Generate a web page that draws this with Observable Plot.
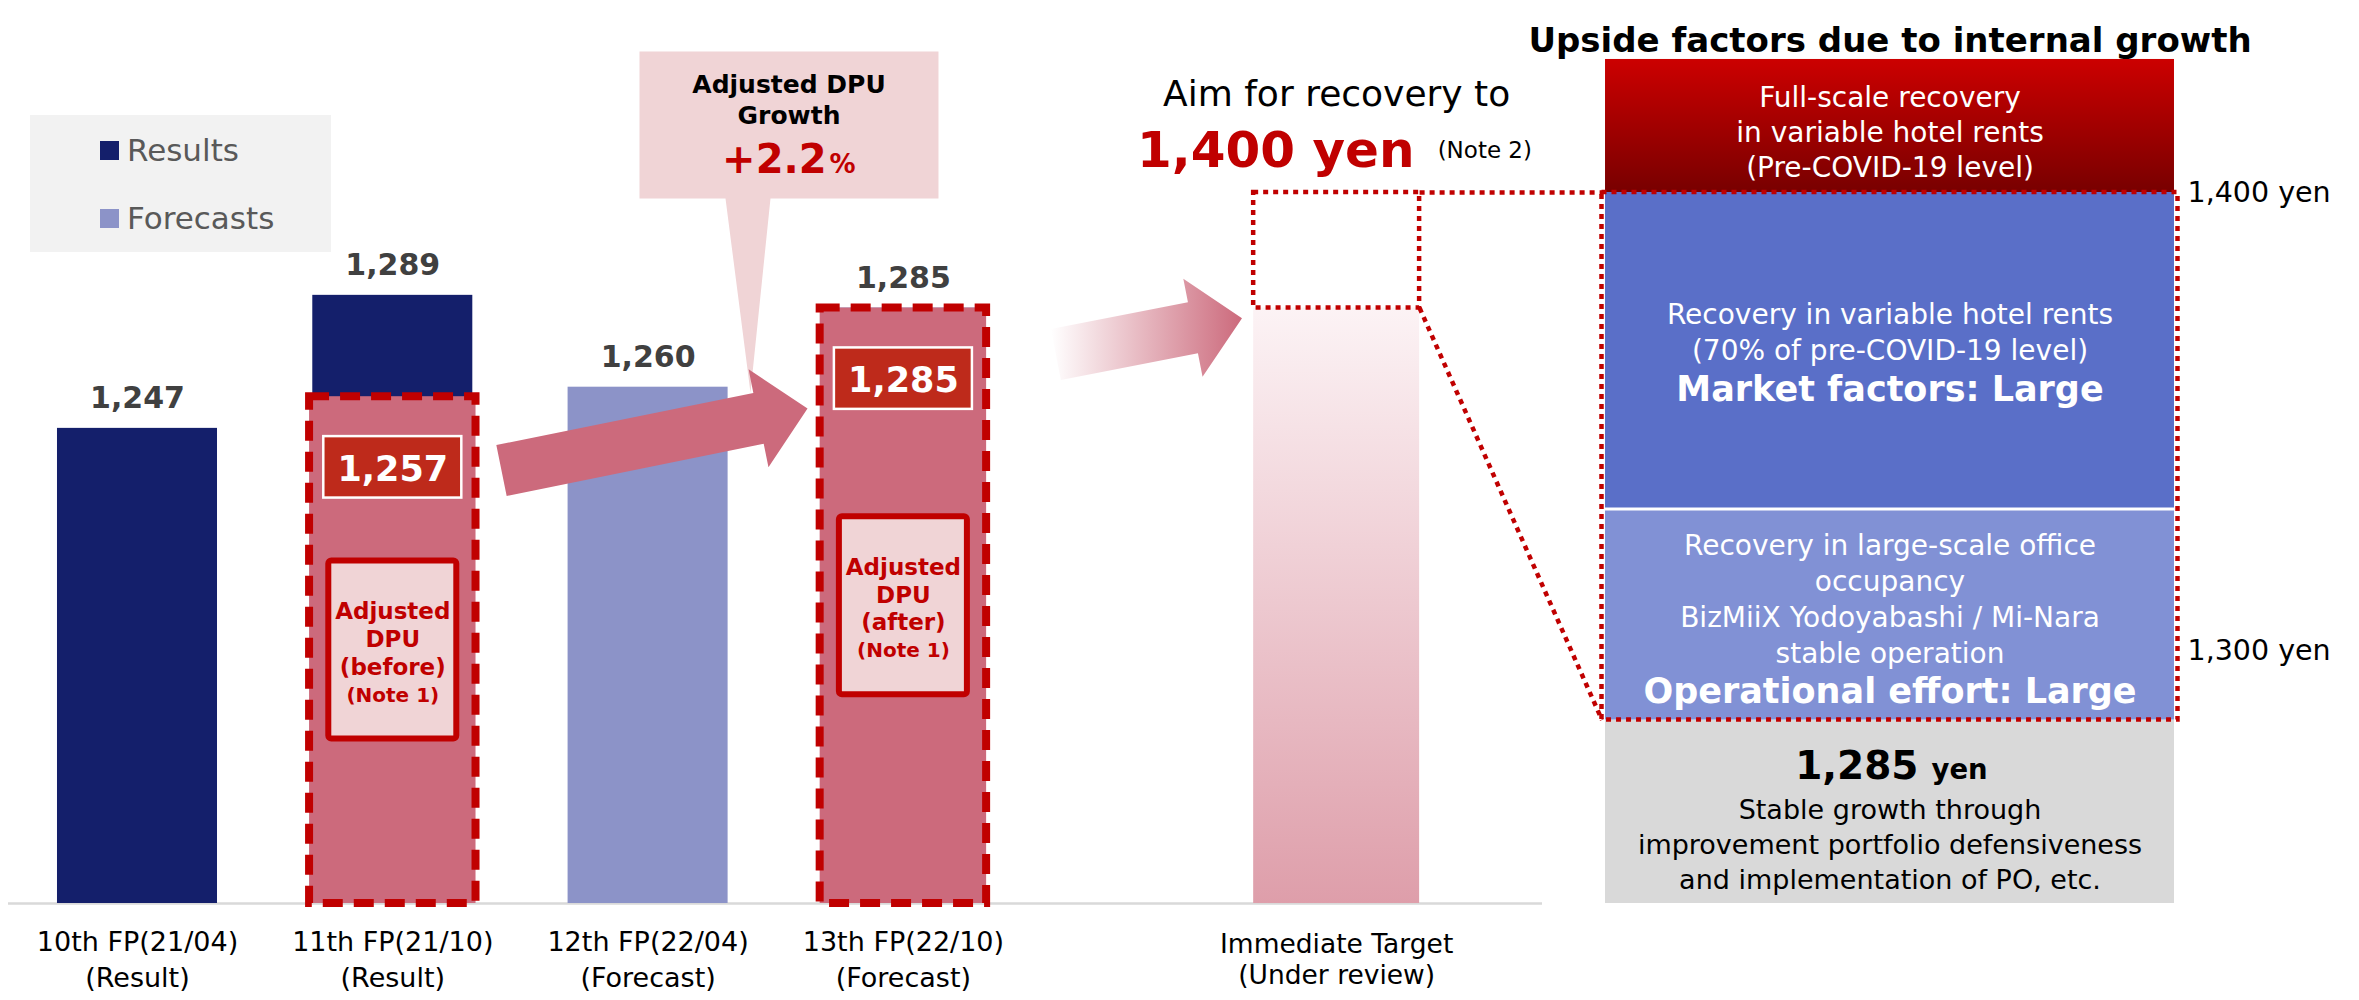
<!DOCTYPE html>
<html>
<head>
<meta charset="utf-8">
<script src="https://cdn.jsdelivr.net/npm/d3@7"></script>
<script src="https://cdn.jsdelivr.net/npm/@observablehq/plot@0.6"></script>
<style>
html, body { margin: 0; padding: 0; background: #fff; }
#stage { position: relative; width: 2359px; height: 1000px; overflow: hidden; font-family: "DejaVu Sans", sans-serif; }
#stage > svg.chart { position: absolute; left: 0; top: 0; }
#legendBox { position: absolute; left: 30px; top: 115px; width: 301px; height: 137px; background: #f2f2f2; box-sizing: border-box; padding: 1px 0 0 70px; }
#legendBox .lg-swatches { font-family: "DejaVu Sans", sans-serif; font-size: 31px; color: #595959; margin: 0; }
#legendBox .lg-swatch { height: 68px; padding: 0; display: flex; align-items: center; }
#legendBox .lg-swatch > svg { margin-right: 8px; }
</style>
</head>
<body>
<div id="stage">
<svg width="0" height="0" style="position:absolute">
  <defs>
    <linearGradient id="tgtGrad" x1="0" y1="0" x2="0" y2="1">
      <stop offset="0" stop-color="#fcf3f5"/>
      <stop offset="1" stop-color="#de9eaa"/>
    </linearGradient>
    <linearGradient id="fullGrad" x1="0" y1="0" x2="0" y2="1">
      <stop offset="0" stop-color="#cc0000"/>
      <stop offset="1" stop-color="#780000"/>
    </linearGradient>
    <linearGradient id="fadeArrow" x1="0" y1="0" x2="1" y2="0">
      <stop offset="0" stop-color="#cc6a7c" stop-opacity="0"/>
      <stop offset="1" stop-color="#cc6a7c" stop-opacity="1"/>
    </linearGradient>
  </defs>
</svg>
</div>
<script>
// ================= DATA =================
const categories = ["10th FP(21/04)", "11th FP(21/10)", "12th FP(22/04)", "13th FP(22/10)"];
const periodTags = ["(Result)", "(Result)", "(Forecast)", "(Forecast)"];
const seriesNames = ["Results", "Forecasts"];
const periodSeries = ["Results", "Results", "Forecasts", "Forecasts"];
const dpuValues = [1247, 1289, 1260, 1285];
const adjustedDpu = [null, 1257, null, 1285];
const adjustedTags = [null, "(before)", null, "(after)"];
const growthPct = 2.2;
const targetLabel = ["Immediate Target", "(Under review)"];
const targetDpu = 1400;
const upsideTitle = "Upside factors due to internal growth";
const upsideKeys = ["base", "operational", "market", "fullScale"];
const upsideFrom = [null, 1285, 1331, 1400];   // null = chart base
const upsideTo = [1285, 1331, 1400, 1429];
const upsideTicks = [1300, 1400];
const upsideBody = {
  base: "Stable growth through\nimprovement portfolio defensiveness\nand implementation of PO, etc.",
  operational: "Recovery in large-scale office\noccupancy\nBizMiiX Yodoyabashi / Mi-Nara\nstable operation",
  market: "Recovery in variable hotel rents\n(70% of pre-COVID-19 level)",
  fullScale: "Full-scale recovery\nin variable hotel rents\n(Pre-COVID-19 level)"
};
const upsideHead = { operational: "Operational effort: Large", market: "Market factors: Large" };

// ================= STYLE & LAYOUT =================
const W = 2359, H = 1000;
const FONT = "DejaVu Sans";
const C = {
  navy: "#141f6b", lavender: "#8c93c8", rose: "#cc6a7c", red: "#c00000",
  tag: "#be2a1b", blush: "#f0d4d6", valueGray: "#404040", axisGray: "#d9d9d9",
  market: "#5a6fc8", operational: "#8191d5", base: "#d9d9d9", full: "url(#fullGrad)"
};
const L = {
  xDomain: [-0.5366, 8.7035],            // slot units across the full width
  yLeft: [1097, 1300], yLeftPx: [903, 260],
  yRight: [1245, 1400], yRightPx: [903, 192],
  barHalf: 0.3134, adjHalf: 0.326, tagHalf: 0.2703, tagTop: 12.6, tagBottom: 32,
  noteHalf: 0.2507, noteHalfV: 28.1,
  targetSlot: 4.697, targetHalf: 0.325,
  panelSlot: 6.8645, panelHalf: 1.1143, frameHalf: 1.1281,
  arrow: { shaftHalf: 26, headLen: 50, headHalf: 50 },
  arrows: [
    { from: [1.4258, 1233.7], to: [2.6245, 1253.3], fill: "#cc6a7c" },
    { from: [3.5973, 1270.3], to: [4.3263, 1281.8], fill: "url(#fadeArrow)" }
  ],
  callout: { x: [1.9663, 3.1375], y: [1319.6, 1366.0], pointer: [2.3032, 2.4794], tip: [2.4011, 1258.3] }
};

const fmt = d3.format(",");
const xs = d3.scaleLinear(L.xDomain, [0, W]);
const yl = d3.scaleLinear(L.yLeft, L.yLeftPx);
const yr = d3.scaleLinear(L.yRight, L.yRightPx);

function arrowPolygon(a) {
  const x0 = xs(a.from[0]), y0 = yl(a.from[1]);
  const x1 = xs(a.to[0]), y1 = yl(a.to[1]);
  const len = Math.hypot(x1 - x0, y1 - y0);
  const ux = (x1 - x0) / len, uy = (y1 - y0) / len, nx = -uy, ny = ux;
  const bx = x1 - ux * L.arrow.headLen, by = y1 - uy * L.arrow.headLen;
  const s = L.arrow.shaftHalf, h = L.arrow.headHalf;
  const pts = [[x0 + nx*s, y0 + ny*s], [bx + nx*s, by + ny*s], [bx + nx*h, by + ny*h], [x1, y1],
               [bx - nx*h, by - ny*h], [bx - nx*s, by - ny*s], [x0 - nx*s, y0 - ny*s]];
  return pts.map(([px, py]) => ({ x: xs.invert(px), y: yl.invert(py) }));
}

const rows = categories.map((c, i) => ({
  i, category: c, tag: periodTags[i], value: dpuValues[i], series: periodSeries[i],
  adjusted: adjustedDpu[i], adjTag: adjustedTags[i]
}));
const adj = rows.filter(d => d.adjusted != null);
const base = L.yLeft[0];
const baseDpu = upsideTo[0];
const co = L.callout;
const calloutPts = [
  [co.x[0], co.y[1]], [co.x[1], co.y[1]], [co.x[1], co.y[0]], [co.pointer[1], co.y[0]],
  [co.tip[0], co.tip[1]], [co.pointer[0], co.y[0]], [co.x[0], co.y[0]]
].map(([x, y]) => ({ x, y }));
const coMid = (co.x[0] + co.x[1]) / 2;
const noteMid = d => (base + d.adjusted) / 2;

// ================= LEFT CHART =================
const plotA = Plot.plot({
  width: W, height: H,
  marginTop: 0, marginLeft: 8, marginRight: W - 1542, marginBottom: H - 903,
  x: { type: "linear", domain: L.xDomain, range: [0, W] },
  y: { type: "linear", domain: L.yLeft, range: L.yLeftPx, axis: null },
  color: { domain: seriesNames, range: [C.navy, C.lavender] },
  style: { fontFamily: FONT, background: "transparent", overflow: "visible" },
  marks: [
    Plot.ruleY([base], { stroke: C.axisGray, strokeWidth: 2.5 }),
    Plot.rect(rows, { x1: d => d.i - L.barHalf, x2: d => d.i + L.barHalf, y1: () => base, y2: "value", fill: "series" }),
    Plot.rect(adj, { x1: d => d.i - L.adjHalf, x2: d => d.i + L.adjHalf, y1: () => base, y2: "adjusted",
      fill: C.rose, stroke: C.red, strokeWidth: 8, strokeDasharray: "20,11" }),
    Plot.rect(adj, { x1: d => d.i - L.tagHalf, x2: d => d.i + L.tagHalf,
      y1: d => d.adjusted - L.tagBottom, y2: d => d.adjusted - L.tagTop,
      fill: C.tag, stroke: "white", strokeWidth: 2.5 }),
    Plot.text(adj, { x: "i", y: d => d.adjusted - (L.tagTop + L.tagBottom) / 2, dy: 2, text: d => fmt(d.adjusted),
      fill: "white", fontSize: 35, fontWeight: "bold", fontFamily: FONT }),
    Plot.rect(adj, { x1: d => d.i - L.noteHalf, x2: d => d.i + L.noteHalf,
      y1: d => noteMid(d) - L.noteHalfV, y2: d => noteMid(d) + L.noteHalfV,
      fill: C.blush, stroke: C.red, strokeWidth: 6, rx: 3 }),
    Plot.text(adj, { x: "i", y: noteMid, dy: -12, text: d => "Adjusted\nDPU\n" + d.adjTag, lineHeight: 1.2,
      fill: C.red, fontSize: 23, fontWeight: "bold", fontFamily: FONT }),
    Plot.text(adj, { x: "i", y: noteMid, dy: 45, text: () => "(Note 1)",
      fill: C.red, fontSize: 20, fontWeight: "bold", fontFamily: FONT }),
    Plot.text(rows, { x: "i", y: "value", dy: -30, text: d => fmt(d.value),
      fill: C.valueGray, fontSize: 30, fontWeight: "bold", fontFamily: FONT }),
    // callout
    Plot.line(calloutPts, { x: "x", y: "y", fill: C.blush, stroke: null }),
    Plot.text([0], { x: () => coMid, y: () => co.y[1], dy: 47.5, text: () => "Adjusted DPU\nGrowth", lineHeight: 1.24,
      fill: "black", fontSize: 25, fontWeight: "bold", fontFamily: FONT }),
    Plot.text([growthPct], { x: () => coMid, y: () => co.y[1], dx: 37.5, dy: 109, text: d => "+" + d, textAnchor: "end",
      fill: C.red, fontSize: 40, fontWeight: "bold", fontFamily: FONT }),
    Plot.text([0], { x: () => coMid, y: () => co.y[1], dx: 40.5, dy: 113.7, text: () => "%", textAnchor: "start",
      fill: C.red, fontSize: 26, fontWeight: "bold", fontFamily: FONT }),
    // arrows
    ...L.arrows.map(a => Plot.line(arrowPolygon(a), { x: "x", y: "y", fill: a.fill, stroke: null })),
    // target bar
    Plot.rect([0], { x1: () => L.targetSlot - L.targetHalf, x2: () => L.targetSlot + L.targetHalf,
      y1: () => base, y2: () => baseDpu, fill: "url(#tgtGrad)" }),
    // category axis
    Plot.axisX(rows.map(d => d.i), { anchor: "bottom", tickSize: 0, tickPadding: 22,
      tickFormat: i => categories[i] + "\n" + periodTags[i], fontSize: 27, lineHeight: 1.34, fontFamily: FONT, fill: "black" }),
    Plot.axisX([L.targetSlot], { anchor: "bottom", tickSize: 0, tickPadding: 28,
      tickFormat: () => targetLabel.join("\n"), fontSize: 26.5, lineHeight: 1.15, fontFamily: FONT, fill: "black" })
  ]
});
plotA.classList.add("chart");

// ================= RIGHT PANEL =================
const segs = upsideKeys.map((key, i) => ({ key, from: upsideFrom[i] ?? L.yRight[0], to: upsideTo[i] }));
const seg = k => segs.find(s => s.key === k);
const segMid = k => (seg(k).from + seg(k).to) / 2;
const pL = L.panelSlot - L.panelHalf, pR = L.panelSlot + L.panelHalf;
const fL = L.panelSlot - L.frameHalf, fR = L.panelSlot + L.frameHalf;
const leftToRight = v => yr.invert(yl(v));
const dotted = { stroke: C.red, strokeWidth: 4.5, strokeDasharray: "5,5" };
const tL = L.targetSlot - L.targetHalf, tR = L.targetSlot + L.targetHalf;
const smallBottom = leftToRight(baseDpu);

const plotB = Plot.plot({
  width: W, height: H,
  marginTop: 0, marginLeft: 0, marginRight: W - 2178, marginBottom: H - 903,
  x: { type: "linear", domain: L.xDomain, range: [0, W], axis: null },
  y: { type: "linear", domain: L.yRight, range: L.yRightPx },
  style: { fontFamily: FONT, background: "transparent", overflow: "visible", pointerEvents: "none" },
  marks: [
    ...segs.map(s => Plot.rect([s], { x1: () => pL, x2: () => pR, y1: "from", y2: "to", fill: C[s.key === "fullScale" ? "full" : s.key] })),
    Plot.ruleY([seg("market").from], { x1: () => pL, x2: () => pR, stroke: "white", strokeWidth: 3 }),
    Plot.rect([0], { x1: () => fL, x2: () => fR, y1: () => seg("operational").from, y2: () => seg("market").to, fill: "none", ...dotted }),
    Plot.rect([0], { x1: () => tL, x2: () => tR, y1: () => smallBottom, y2: () => targetDpu, fill: "none", ...dotted }),
    Plot.link([
      { x1: tR, y1: targetDpu, x2: fL, y2: seg("market").to },
      { x1: tR, y1: smallBottom, x2: fL, y2: seg("operational").from }
    ], { x1: "x1", y1: "y1", x2: "x2", y2: "y2", ...dotted }),
    // panel texts
    Plot.text([upsideBody.fullScale], { x: () => L.panelSlot, y: () => segMid("fullScale"), dy: 4.5, lineHeight: 1.25,
      fill: "white", fontSize: 28, fontFamily: FONT }),
    Plot.text([upsideBody.market], { x: () => L.panelSlot, y: () => segMid("market"), dy: -20, lineHeight: 1.29,
      fill: "white", fontSize: 28, fontFamily: FONT }),
    Plot.text([upsideHead.market], { x: () => L.panelSlot, y: () => segMid("market"), dy: 39,
      fill: "white", fontSize: 35, fontWeight: "bold", fontFamily: FONT }),
    Plot.text([upsideBody.operational], { x: () => L.panelSlot, y: () => segMid("operational"), dy: -17, lineHeight: 1.29,
      fill: "white", fontSize: 28, fontFamily: FONT }),
    Plot.text([upsideHead.operational], { x: () => L.panelSlot, y: () => segMid("operational"), dy: 77,
      fill: "white", fontSize: 35, fontWeight: "bold", fontFamily: FONT }),
    Plot.text([upsideBody.base], { x: () => L.panelSlot, y: () => segMid("base"), dy: 31, lineHeight: 1.3,
      fill: "black", fontSize: 27, fontFamily: FONT }),
    Plot.text([baseDpu], { x: () => L.panelSlot, y: () => segMid("base"), dx: 28.5, dy: -45.5, text: d => fmt(d), textAnchor: "end",
      fill: "black", fontSize: 39, fontWeight: "bold", fontFamily: FONT }),
    Plot.text(["yen"], { x: () => L.panelSlot, y: () => segMid("base"), dx: 41.5, dy: -41.6, textAnchor: "start",
      fill: "black", fontSize: 27.5, fontWeight: "bold", fontFamily: FONT }),
    // title & target headline
    Plot.text([upsideTitle], { x: () => L.panelSlot, frameAnchor: "top", dy: 27,
      fill: "black", fontSize: 34, fontWeight: "bold", fontFamily: FONT }),
    Plot.text(["Aim for recovery to"], { x: () => L.targetSlot, y: () => targetDpu, dy: -98,
      fill: "black", fontSize: 36, fontFamily: FONT }),
    Plot.text([targetDpu], { x: () => L.targetSlot, y: () => targetDpu, dx: 78, dy: -42, text: d => fmt(d) + " yen", textAnchor: "end",
      fill: C.red, fontSize: 50, fontWeight: "bold", fontFamily: FONT }),
    Plot.text(["(Note 2)"], { x: () => L.targetSlot, y: () => targetDpu, dx: 101, dy: -42, textAnchor: "start",
      fill: "black", fontSize: 23, fontFamily: FONT }),
    Plot.axisY(upsideTicks, { anchor: "right", tickSize: 0, tickPadding: 9, tickFormat: d => fmt(d) + " yen",
      fontSize: 28.5, fontFamily: FONT, fill: "black" })
  ]
});
plotB.classList.add("chart");

const stage = document.getElementById("stage");
stage.appendChild(plotA);
stage.appendChild(plotB);

const legendBox = document.createElement("div");
legendBox.id = "legendBox";
legendBox.appendChild(plotA.legend("color", { columns: 1, swatchSize: 19, className: "lg" }));
stage.appendChild(legendBox);
</script>
</body>
</html>
